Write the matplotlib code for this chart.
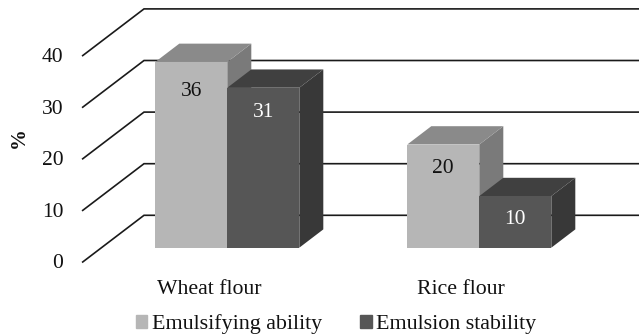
import matplotlib
import matplotlib.pyplot as plt
from matplotlib.patches import Patch, Polygon

matplotlib.use("Agg")
plt.rcParams["font.family"] = ["Liberation Serif", "DejaVu Serif"]

categories = ["Wheat flour", "Rice flour"]
emulsifying = [36, 20]
stability = [31, 10]
y_ticks = [0, 10, 20, 30, 40]

# pixel calibration of the 3D-look chart
W, H = 639, 335
PX_X = 252.0    # px per category
PX_Y = 5.16     # px per %
X0, Y0 = 227.3, 247.7
BAR_W = 72.0 / PX_X
DX, DY = 24.0 / PX_X, 18.3 / PX_Y

# floor depth, relative to the bar plane
FLOOR_FRONT = (-(227.3 - 82.7) / PX_X, -14.3 / PX_Y)
FLOOR_BACK = (-(227.3 - 144.0) / PX_X, 32.4 / PX_Y)


def bar3d(ax, x, h, front, top, side, z):
    ax.add_patch(Polygon([(x + BAR_W, 0), (x + BAR_W + DX, DY), (x + BAR_W + DX, h + DY), (x + BAR_W, h)],
                         fc=side, ec="none", zorder=z))
    ax.add_patch(Polygon([(x, h), (x + DX, h + DY), (x + BAR_W + DX, h + DY), (x + BAR_W, h)],
                         fc=top, ec="none", zorder=z))
    ax.add_patch(Polygon([(x, 0), (x + BAR_W, 0), (x + BAR_W, h), (x, h)],
                         fc=front, ec="none", zorder=z))


fig = plt.figure(figsize=(W / 100, H / 100), dpi=100)
ax = fig.add_axes([0, 0, 1, 1])
ax.set_xlim(-X0 / PX_X, (W - X0) / PX_X)
ax.set_ylim(-(H - Y0) / PX_Y, Y0 / PX_Y)
ax.axis("off")

# gridlines: diagonal on the left wall, flat along the back wall
right = (W - X0) / PX_X
for t in y_ticks:
    ax.plot([FLOOR_FRONT[0], FLOOR_BACK[0], right],
            [t + FLOOR_FRONT[1], t + FLOOR_BACK[1], t + FLOOR_BACK[1]],
            color="#1a1a1a", lw=1.2, zorder=1, solid_joinstyle="miter")
    ax.text(FLOOR_FRONT[0] - 19.5 / PX_X, t + FLOOR_FRONT[1] - 2 / PX_Y, str(t),
            ha="right", va="center", fontsize=15.5, color="#111111")

# label drop below bar top, px
light_drop = [30, 24]
dark_drop = [24.7, 23]

for i, cat in enumerate(categories):
    bar3d(ax, i - BAR_W, emulsifying[i], "#b6b6b6", "#8a8a8a", "#7a7a7a", 2)
    bar3d(ax, i, stability[i], "#565656", "#404040", "#383838", 3)
    ax.text(i - BAR_W / 2, emulsifying[i] - light_drop[i] / PX_Y, str(emulsifying[i]),
            ha="center", va="center", fontsize=15.5, color="#111111", zorder=4)
    ax.text(i + BAR_W / 2, stability[i] - dark_drop[i] / PX_Y, str(stability[i]),
            ha="center", va="center", fontsize=15.5, color="white", zorder=4)
    ax.text(i - 18 / PX_X, -8.1, cat, ha="center", va="center", fontsize=15.7, color="#111111")

ax.text(-208 / PX_X, (Y0 - 138) / PX_Y, "%", rotation=90, ha="center", va="center",
        fontsize=15, fontweight="bold", color="#111111")

handles = [Patch(color="#b6b6b6"), Patch(color="#565656")]
ax.legend(handles, ["Emulsifying ability", "Emulsion stability"], ncol=2, frameon=False,
          fontsize=15.8, loc="center", bbox_to_anchor=(336 / W, 1 - 324.5 / H),
          handlelength=0.53, handleheight=0.53, handletextpad=0.2, columnspacing=1.75,
          borderpad=0, borderaxespad=0, labelcolor="#111111")

fig.savefig("out.png", dpi=100)
plt.close(fig)
